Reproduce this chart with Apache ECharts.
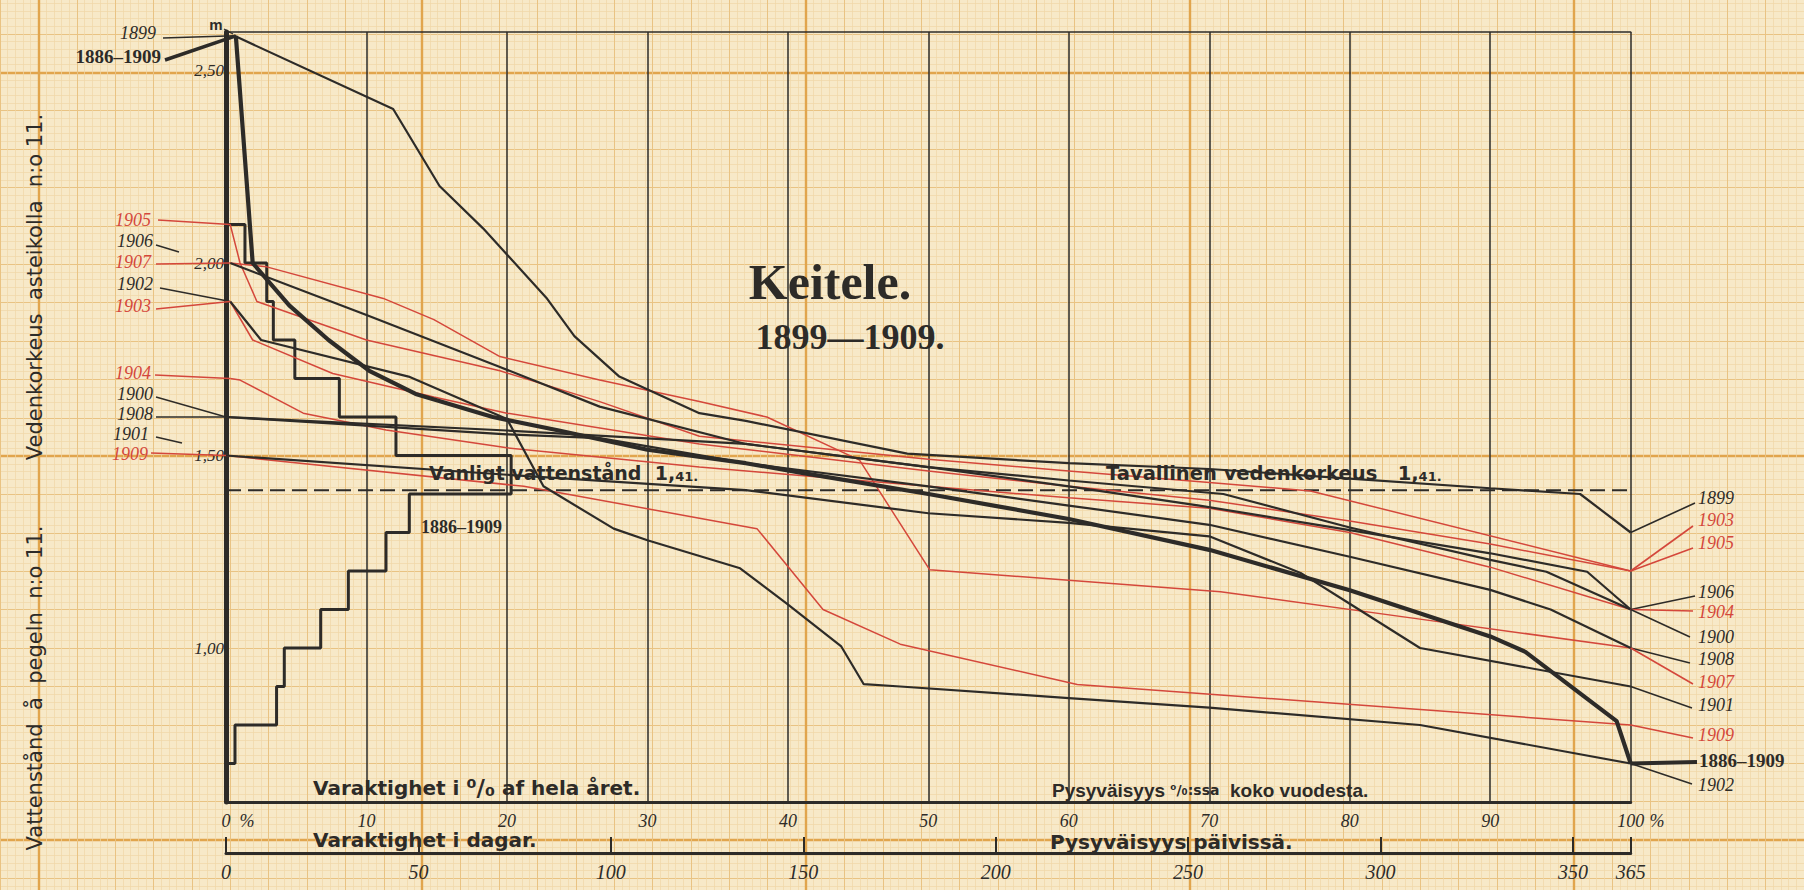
<!DOCTYPE html>
<html>
<head>
<meta charset="utf-8">
<title>Keitele 1899–1909</title>
<script src="https://cdn.jsdelivr.net/npm/echarts@6/dist/echarts.min.js"></script>
<style>
  html, body { margin: 0; padding: 0; background: #f7e9c8; }
  #chart { width: 1804px; height: 890px; }
</style>
</head>
<body>
<div id="chart"></div>
<script>
const W = 1804, H = 890;
const INK = '#2d2b28';
const RED = '#d4473b';
const PAPER = '#f7e9c8';

// duration curves: [percent of the year, water level in m]
const c1899 = [[0.6,2.59],[11.9,2.40],[15.2,2.20],[18.3,2.09],[22.8,1.91],[24.8,1.81],[28,1.705],[33.7,1.61],[37,1.59],[48.5,1.505],[60,1.48],[70,1.465],[80,1.44],[90,1.415],[96.4,1.40],[100,1.30]];
const c1900 = [[0,1.60],[20,1.565],[37,1.53],[50,1.47],[60,1.42],[69.3,1.37],[80,1.306],[90,1.246],[96.9,1.198],[100,1.10]];
const c1901 = [[0,1.50],[20,1.45],[37,1.41],[50,1.35],[60,1.325],[70,1.29],[76.5,1.195],[80,1.115],[85,1.0],[100,0.90]];
const c1902 = [[0.3,1.90],[2.5,1.80],[13,1.705],[20,1.595],[22.6,1.42],[27.6,1.31],[30,1.28],[36.6,1.207],[39.9,1.116],[43.8,1.004],[45.4,0.906],[48,0.90],[60,0.87],[70,0.845],[85,0.80],[100,0.70]];
const c1903 = [[0.3,1.90],[1.9,1.80],[7.6,1.713],[14.8,1.652],[20,1.61],[33.7,1.53],[50,1.46],[60,1.42],[70,1.384],[80,1.33],[90,1.27],[100,1.20]];
const c1904 = [[0.3,1.70],[1,1.696],[5.5,1.61],[11.4,1.566],[20,1.52],[33.7,1.47],[50,1.42],[60,1.39],[70,1.363],[80,1.30],[90,1.21],[100,1.10]];
const c1905 = [[0.3,2.10],[1,2.0],[2.2,1.90],[10,1.80],[19.5,1.72],[26.6,1.64],[33.7,1.55],[50,1.49],[60,1.46],[70,1.43],[77.2,1.408],[100,1.20]];
const c1906 = [[0.3,2.0],[10,1.865],[19.5,1.73],[26.6,1.627],[37,1.53],[50,1.47],[60,1.435],[71,1.40],[80,1.313],[90,1.229],[94,1.198],[100,1.10]];
const c1907 = [[0.3,2.0],[2.9,1.99],[11.2,1.908],[14.8,1.853],[19.5,1.757],[26.6,1.696],[33.7,1.64],[38.5,1.60],[45.1,1.488],[50.1,1.203],[70.8,1.146],[85,1.075],[100,1.00]];
const c1908 = [[0,1.60],[20,1.555],[26.6,1.545],[37,1.48],[50,1.42],[60,1.37],[70,1.32],[80,1.237],[90,1.151],[94.3,1.10],[100,1.00]];
const c1909 = [[0,1.50],[21.2,1.42],[37.8,1.31],[42.5,1.10],[48,1.01],[60.6,0.905],[70.8,0.878],[100,0.80]];
const c1886 = [[0.7,2.59],[1.9,2.0],[4.5,1.89],[7.3,1.80],[10.2,1.72],[13.5,1.66],[19,1.60],[23.7,1.565],[30,1.515],[37,1.48],[41,1.455],[50,1.40],[60,1.335],[70,1.255],[80,1.15],[90,1.03],[92.5,0.99],[99,0.81],[100,0.70]];

// frequency of levels 1886-1909, per 0.1 m band (lower edge, % of year)
const histLevels = [0.7,0.8,0.9,1.0,1.1,1.2,1.3,1.4,1.5,1.6,1.7,1.8,1.9,2.0];
const histPct = [0.64,3.6,4.15,6.74,8.71,11.39,13.05,20.3,12.1,8.07,4.9,3.37,2.9,1.35];
const bandStep = 0.1;

const normalLevel = 1.41;
const pctTicks = [0,10,20,30,40,50,60,70,80,90,100];
const dayTicks = [0,50,100,150,200,250,300,350,365];
const levelTicks = [1.0,1.5,2.0,2.5];

const curves = [
  { name: '1909', data: c1909, color: RED, width: 1.5 },
  { name: '1907', data: c1907, color: RED, width: 1.5 },
  { name: '1905', data: c1905, color: RED, width: 1.5 },
  { name: '1904', data: c1904, color: RED, width: 1.5 },
  { name: '1903', data: c1903, color: RED, width: 1.5 },
  { name: '1908', data: c1908, color: INK, width: 2.2 },
  { name: '1906', data: c1906, color: INK, width: 2.2 },
  { name: '1902', data: c1902, color: INK, width: 2.2 },
  { name: '1901', data: c1901, color: INK, width: 2.2 },
  { name: '1900', data: c1900, color: INK, width: 2.2 },
  { name: '1899', data: c1899, color: INK, width: 2.2 },
  { name: '1886–1909', data: c1886, color: INK, width: 4.2 }
];
const curveByName = {};
curves.forEach(c => { curveByName[c.name] = c; });

// ---- graph paper (mm grid) ----
const MM = 7.677;
const paperOrigin = [38.4, 840];
const paperLevels = [
  { interval: 1, color: '#efd7a8', width: 0.7, x: [-5, 230], y: [-6, 109] },
  { interval: 5, color: '#e9c383', width: 1, x: [-5, 230], y: [-5, 105] },
  { interval: 50, color: '#e1a54d', width: 2.4, x: [0, 200], y: [0, 100] }
];

const grids = [], xAxes = [], yAxes = [];
const hidden = (gi, extra) => Object.assign({ gridIndex: gi, type: 'value', min: 0, max: 1, show: false }, extra || {});
function paperAxis(gi, range, lv) {
  return {
    gridIndex: gi, type: 'value', min: range[0], max: range[1], interval: lv.interval, silent: true, z: 0,
    axisLine: { show: false }, axisTick: { show: false }, axisLabel: { show: false },
    splitLine: { show: true, lineStyle: { color: lv.color, width: lv.width } }
  };
}
paperLevels.forEach(lv => {
  // vertical rulings, full page height
  let gi = grids.length;
  grids.push({
    left: Math.max(0, paperOrigin[0] + lv.x[0] * MM),
    right: Math.max(0, W - (paperOrigin[0] + lv.x[1] * MM)),
    top: 0, bottom: 0
  });
  xAxes.push(paperAxis(gi, lv.x, lv));
  yAxes.push(hidden(gi));
  // horizontal rulings, full page width
  gi = grids.length;
  grids.push({
    left: 0, right: 0,
    top: Math.max(0, paperOrigin[1] - lv.y[1] * MM),
    bottom: Math.max(0, H - (paperOrigin[1] - lv.y[0] * MM))
  });
  xAxes.push(hidden(gi));
  yAxes.push(paperAxis(gi, lv.y, lv));
});

// plot frame: 0..100 %, 0.60..2.60 m
const PLOT = { left: 226, right: 173.3, top: 32, bottom: 88 };
const PLOT_G = grids.length;
grids.push(PLOT);
const DAYS_G = grids.length;
grids.push({ left: PLOT.left, right: PLOT.right, top: 852, height: 1 });

const numFont = { fontFamily: '"Liberation Serif", serif', fontStyle: 'italic', color: INK };

const PX = xAxes.length;
xAxes.push({
  gridIndex: PLOT_G, type: 'value', min: pctTicks[0], max: pctTicks[pctTicks.length - 1], interval: 10,
  position: 'bottom', z: 1,
  axisLine: { show: true, onZero: false, lineStyle: { color: INK, width: 3 } },
  axisTick: { show: false },
  axisLabel: Object.assign({ show: true, margin: 10, fontSize: 18, formatter: v => String(v) }, numFont),
  splitLine: { show: true, lineStyle: { color: INK, width: 1.5 } }
});
xAxes.push({
  gridIndex: PLOT_G, type: 'value', min: 0, max: 100, position: 'top', z: 1,
  axisLine: { show: true, onZero: false, lineStyle: { color: INK, width: 1.5 } },
  axisTick: { show: false }, axisLabel: { show: false }, splitLine: { show: false }
});
xAxes.push({
  gridIndex: DAYS_G, type: 'value', min: 0, max: 365, position: 'bottom', z: 1,
  axisLine: { show: true, onZero: false, lineStyle: { color: INK, width: 3 } },
  axisTick: { show: true, inside: true, length: 16, customValues: dayTicks, lineStyle: { color: INK, width: 2 } },
  axisLabel: Object.assign({ show: true, margin: 9, fontSize: 20, customValues: dayTicks }, numFont),
  splitLine: { show: false }
});

const PY = yAxes.length;
yAxes.push({
  gridIndex: PLOT_G, type: 'value', min: 0.6, max: 2.6, z: 1,
  axisLine: { show: true, onZero: false, lineStyle: { color: INK, width: 5 } },
  axisTick: { show: false },
  axisLabel: Object.assign({
    show: true, customValues: levelTicks, margin: 2, fontSize: 17, padding: [0, 0, 8, 0],
    formatter: v => v.toFixed(2).replace('.', ',')
  }, numFont),
  splitLine: { show: false }
});
yAxes.push(hidden(DAYS_G));

// ---- series ----
const series = [];
const onPlot = { xAxisIndex: PX, yAxisIndex: PY, symbol: 'none', silent: true };
series.push(Object.assign({
  type: 'line', name: 'normal', z: 2,
  data: [[pctTicks[0], normalLevel], [pctTicks[pctTicks.length - 1], normalLevel]],
  lineStyle: { color: INK, width: 2, type: [15, 7] }
}, onPlot));

const histPts = [[0, histLevels[0]]];
histLevels.forEach((lv, i) => {
  histPts.push([histPct[i], lv], [histPct[i], +(lv + bandStep).toFixed(2)]);
});
histPts.push([0, +(histLevels[histLevels.length - 1] + bandStep).toFixed(2)]);
series.push(Object.assign({
  type: 'line', name: 'frequency', z: 3, data: histPts, lineStyle: { color: INK, width: 3 }
}, onPlot));

curves.forEach(c => {
  series.push(Object.assign({
    type: 'line', name: c.name, z: c.color === RED ? 3 : 4,
    data: c.data, lineStyle: { color: c.color, width: c.width }
  }, onPlot));
});

const chart = echarts.init(document.getElementById('chart'), null, { renderer: 'svg' });
chart.setOption({
  animation: false,
  backgroundColor: PAPER,
  grid: grids,
  xAxis: xAxes,
  yAxis: yAxes,
  series: series
});

// ---- labels and leaders ----
const toPx = pt => chart.convertToPixel({ gridIndex: PLOT_G }, pt);
const yearFont = 'italic 18px "Liberation Serif", serif';
const boldYear = 'bold 19px "Liberation Serif", serif';
const wideBold = sz => 'bold ' + sz + 'px "DejaVu Sans", sans-serif';

const leftLabels = [
  { name: '1899', x: 156, y: 33, from: [163, 38] },
  { name: '1886–1909', x: 161, y: 56, from: [165, 60] },
  { name: '1905', x: 151, y: 220, from: [158, 220] },
  { name: '1906', x: 153, y: 241, from: [156, 245], to: [179, 252] },
  { name: '1907', x: 151, y: 262, from: [156, 264] },
  { name: '1902', x: 153, y: 284, from: [160, 288] },
  { name: '1903', x: 151, y: 306, from: [156, 309] },
  { name: '1904', x: 151, y: 373, from: [155, 375] },
  { name: '1900', x: 153, y: 394, from: [156, 397] },
  { name: '1908', x: 153, y: 414, from: [156, 417] },
  { name: '1901', x: 149, y: 434, from: [156, 437], to: [182, 443] },
  { name: '1909', x: 148, y: 454, from: [151, 453] }
];
const rightLabels = [
  { name: '1899', x: 1698, y: 498, to: [1695, 503] },
  { name: '1903', x: 1698, y: 520, to: [1693, 526] },
  { name: '1905', x: 1698, y: 543, to: [1693, 548] },
  { name: '1906', x: 1698, y: 592, to: [1695, 596] },
  { name: '1904', x: 1698, y: 612, to: [1693, 611] },
  { name: '1900', x: 1698, y: 637, to: [1690, 637] },
  { name: '1908', x: 1698, y: 659, to: [1690, 663] },
  { name: '1907', x: 1698, y: 682, to: [1693, 684] },
  { name: '1901', x: 1698, y: 705, to: [1692, 708] },
  { name: '1909', x: 1698, y: 735, to: [1693, 738] },
  { name: '1886–1909', x: 1699, y: 760, to: [1697, 762] },
  { name: '1902', x: 1698, y: 785, to: [1692, 784] }
];

const g = [];
function text(t, x, y, font, fill, align, extra) {
  g.push(Object.assign({
    type: 'text', x: x, y: y, z: 20, silent: true,
    style: { text: t, font: font, fill: fill || INK, align: align || 'left', verticalAlign: 'middle' }
  }, extra || {}));
}
function rich(t, x, y, styles) {
  g.push({
    type: 'text', x: x, y: y, z: 20, silent: true,
    style: { text: t, align: 'left', verticalAlign: 'middle', rich: styles }
  });
}
function seg(a, b, color, width) {
  g.push({
    type: 'line', z: 19, silent: true,
    shape: { x1: a[0], y1: a[1], x2: b[0], y2: b[1] },
    style: { stroke: color, lineWidth: width }
  });
}

leftLabels.forEach(l => {
  const c = curveByName[l.name];
  const thick = l.name.length > 4;
  text(l.name, l.x, l.y, thick ? boldYear : yearFont, c.color, 'right');
  const end = l.to || toPx(c.data[0]);
  seg(l.from, end, c.color, thick ? 3.5 : 1.5);
});
rightLabels.forEach(l => {
  const c = curveByName[l.name];
  const thick = l.name.length > 4;
  text(l.name, l.x, l.y, thick ? boldYear : yearFont, c.color, 'left');
  seg(toPx(c.data[c.data.length - 1]), l.to, c.color, thick ? 4 : 1.6);
});

text('m', 216, 24, 'bold 15px "Liberation Sans", sans-serif', INK, 'center');
seg([224, 29], [233, 34], INK, 1.2);
text('1886–1909', 421, 527, 'bold 18px "Liberation Serif", serif', INK, 'left');

text('Keitele.', 830, 282, 'bold 50px "Liberation Serif", serif', INK, 'center');
text('1899—1909.', 850, 337, 'bold 36px "Liberation Serif", serif', INK, 'center');

const small = { font: wideBold(13), fill: INK, padding: [7, 0, 0, 0] };
rich('{a|Vanligt vattenstånd  1,}{b|41.}', 429, 473, { a: { font: wideBold(19), fill: INK }, b: small });
rich('{a|Tavallinen vedenkorkeus   1,}{b|41.}', 1106, 473, { a: { font: wideBold(19.5), fill: INK }, b: small });
rich('{a|Varaktighet i }{b|⁰/₀}{a| af hela året.}', 313, 788, {
  a: { font: wideBold(20), fill: INK }, b: { font: wideBold(23), fill: INK }
});
rich('{a|Pysyväisyys }{b|⁰/₀:ssa}{a|  koko vuodesta.}', 1052, 790, {
  a: { font: 'bold 19px "Liberation Sans", sans-serif', fill: INK }, b: { font: wideBold(14), fill: INK }
});
text('Varaktighet i dagar.', 313, 840, wideBold(20), INK, 'left');
text('Pysyväisyys päivissä.', 1050, 842, wideBold(20), INK, 'left');

text('%', 247, 821, 'italic 18px "Liberation Serif", serif', INK, 'center');
text('%', 1657, 821, 'italic 18px "Liberation Serif", serif', INK, 'center');

text('Vedenkorkeus  asteikolla  n:o 11.', 35, 287, '21px "DejaVu Sans", sans-serif', INK, 'center', { rotation: Math.PI / 2 });
text('Vattenstånd  å  pegeln  n:o 11.', 35, 688, '21px "DejaVu Sans", sans-serif', INK, 'center', { rotation: Math.PI / 2 });

chart.setOption({ graphic: { elements: g } });
</script>
</body>
</html>
